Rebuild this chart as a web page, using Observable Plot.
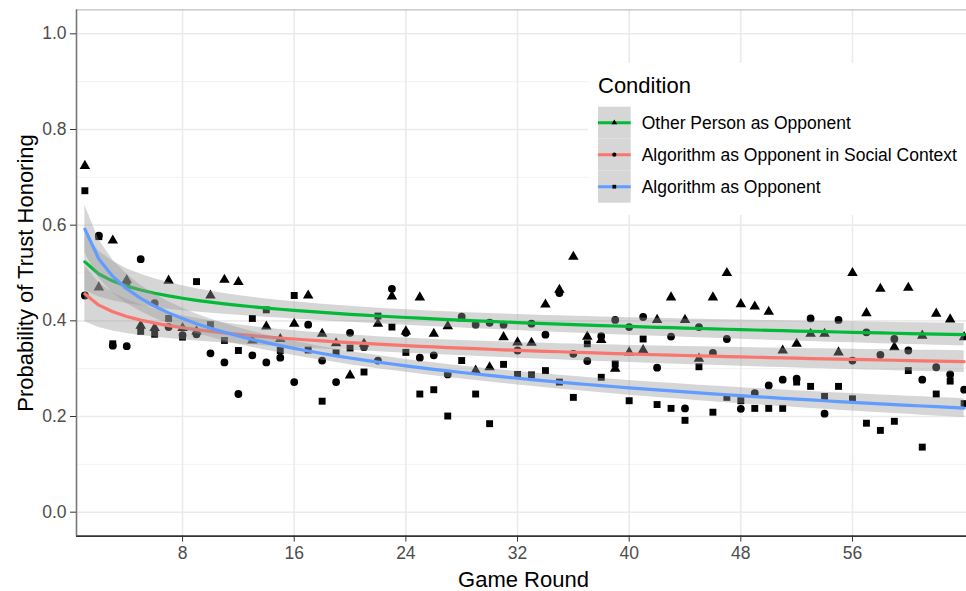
<!DOCTYPE html>
<html>
<head>
<meta charset="utf-8">
<script src="https://cdn.jsdelivr.net/npm/d3@7"></script>
<script src="https://cdn.jsdelivr.net/npm/@observablehq/plot@0.6"></script>
<style>
  html, body { margin: 0; padding: 0; background: #fff; overflow: hidden; }
  #wrap { position: relative; width: 966px; height: 591px; overflow: hidden; font-family: "Liberation Sans", Arial, sans-serif; }
  #wrap svg text { font-family: "Liberation Sans", Arial, sans-serif; }
  g[aria-label="x-axis tick"], g[aria-label="y-axis tick"] { stroke: #333333; }
  g[aria-label="x-axis tick label"], g[aria-label="y-axis tick label"] { fill: #4d4d4d; }
  #legend { position: absolute; left: 588px; top: 63px; width: 390px; height: 152px; background: #fff; }
</style>
</head>
<body>
<div id="wrap"><div id="legend"></div></div>
<script>
// ---- data ----
const rounds = [1,2,3,4,5,6,7,8,9,10,11,12,13,14,15,16,17,18,19,20,21,22,23,24,25,26,27,28,29,30,31,32,
                33,34,35,36,37,38,39,40,41,42,43,44,45,46,47,48,49,50,51,52,53,54,55,56,57,58,59,60,61,62,63,64];
const otherPerson = [0.724,0.470,0.568,0.485,0.390,0.385,0.484,0.385,0.378,0.453,0.486,0.481,0.359,0.388,0.362,0.394,
                     0.453,0.373,0.353,0.286,0.352,0.394,0.451,0.378,0.449,0.373,0.389,0.405,0.296,0.303,0.366,0.355,
                     0.354,0.434,0.465,0.534,0.367,0.360,0.300,0.334,0.339,0.402,0.449,0.402,0.321,0.449,0.500,0.435,
                     0.430,0.419,0.338,0.352,0.373,0.373,0.334,0.500,0.416,0.467,0.345,0.469,0.369,0.415,0.403,0.366];
const socialAlgo = [0.453,0.578,0.348,0.347,0.529,0.437,0.387,0.370,0.372,0.332,0.313,0.247,0.328,0.313,0.323,0.272,
                    0.392,0.317,0.272,0.375,0.345,0.317,0.467,0.375,0.323,0.328,0.288,0.409,0.392,0.396,0.392,0.338,
                    0.394,0.371,0.458,0.331,0.316,0.368,0.402,0.387,0.408,0.302,0.367,0.217,0.387,0.333,0.362,0.216,
                    0.249,0.265,0.277,0.279,0.405,0.206,0.402,0.317,0.376,0.329,0.362,0.338,0.277,0.303,0.288,0.256];
const algorithm = [0.672,0.576,0.352,0.475,0.378,0.372,0.405,0.366,0.482,0.392,0.359,0.338,0.405,0.423,0.338,0.453,
                   0.339,0.232,0.333,0.343,0.293,0.410,0.387,0.334,0.247,0.256,0.201,0.317,0.247,0.185,0.309,0.288,
                   0.287,0.296,0.272,0.240,0.352,0.282,0.310,0.233,0.362,0.225,0.217,0.192,0.304,0.209,0.240,0.233,
                   0.217,0.217,0.217,0.272,0.263,0.242,0.263,0.237,0.186,0.171,0.190,0.296,0.136,0.247,0.274,0.227];
const conditions = ["Other Person as Opponent", "Algorithm as Opponent in Social Context", "Algorithm as Opponent"];
const series = [otherPerson, socialAlgo, algorithm];
const lineColors = ["#00BA38", "#F8766D", "#619CFF"];
const symbols = ["triangle", "circle", "square"];
const xTicks = [8, 16, 24, 32, 40, 48, 56];
const yTicks = [0, 0.2, 0.4, 0.6, 0.8, 1.0];
const yMinor = [0.1, 0.3, 0.5, 0.7, 0.9];
const xDomain = [0.4, 64.6];
const yDomain = [-0.05, 1.05];
const xTitle = "Game Round";
const yTitle = "Probability of Trust Honoring";
const legendTitle = "Condition";

// ---- tables ----
const points = conditions.flatMap((c, i) => rounds.map((r, j) => ({round: r, value: series[i][j], cond: c})));

// linear model y ~ log(x) with 95% confidence band (as geom_smooth)
function fitLog(xs, ys, cond) {
  const lx = xs.map(Math.log), n = xs.length;
  const mx = d3.mean(lx), my = d3.mean(ys);
  const sxx = d3.sum(lx, v => (v - mx) ** 2);
  const sxy = d3.sum(lx, (v, i) => (v - mx) * (ys[i] - my));
  const b = sxy / sxx, a = my - b * mx;
  const rss = d3.sum(lx, (v, i) => (ys[i] - a - b * v) ** 2);
  const s = Math.sqrt(rss / (n - 2)), t = 1.999;
  return xs.map((x, i) => {
    const fit = a + b * lx[i];
    const se = s * Math.sqrt(1 / n + (lx[i] - mx) ** 2 / sxx);
    return {round: x, fit, lo: fit - t * se, hi: fit + t * se, cond};
  });
}
const fits = conditions.map((c, i) => fitLog(rounds, series[i], c));

const smoothMarks = fits.flatMap((f, i) => [
  Plot.areaY(f, {x: "round", y1: "lo", y2: "hi", fill: "#999999", fillOpacity: 0.4}),
  Plot.line(f, {x: "round", y: "fit", stroke: lineColors[i], strokeWidth: 3.2})
]);

const chart = Plot.plot({
  width: 966,
  height: 591,
  marginLeft: 76,
  marginRight: 0,
  marginTop: 9.4,
  marginBottom: 55.4,
  style: {fontFamily: "Liberation Sans, Arial, sans-serif", background: "white"},
  x: {domain: xDomain, range: [76, 972]},
  y: {domain: yDomain},
  symbol: {domain: conditions, range: symbols},
  marks: [
    Plot.gridY(yMinor, {stroke: "#F2F2F2", strokeOpacity: 1, strokeWidth: 1}),
    Plot.gridY(yTicks, {stroke: "#EBEBEB", strokeOpacity: 1, strokeWidth: 1.6}),
    Plot.gridX(xTicks, {stroke: "#EBEBEB", strokeOpacity: 1, strokeWidth: 1.6}),
    Plot.dot(points, {x: "round", y: "value", symbol: "cond", fill: "black", stroke: "none", r: 3.9}),
    ...smoothMarks,
    Plot.ruleY([yDomain[1]], {stroke: "#b0b0b0", strokeWidth: 1}),
    Plot.ruleX([xDomain[0]], {stroke: "#777777", strokeWidth: 1.6}),
    Plot.ruleY([yDomain[0]], {stroke: "#333333", strokeWidth: 1.6}),
    Plot.axisY(yTicks, {tickSize: 6, tickPadding: 4, tickFormat: ".1f", fontSize: 17.5, label: null}),
    Plot.axisX(xTicks, {tickSize: 6, tickPadding: 4, fontSize: 17.5, label: null}),
    Plot.text([yTitle], {text: d => d, frameAnchor: "left", textAnchor: "middle", lineAnchor: "middle",
                         dx: -51, rotate: -90, fontSize: 22, fill: "black"}),
    Plot.text([xTitle], {text: d => d, frameAnchor: "bottom", textAnchor: "middle", lineAnchor: "middle",
                         dx: 2, dy: 44, fontSize: 22, fill: "black"})
  ]
});
document.getElementById("wrap").insertBefore(chart, document.getElementById("legend"));

// ---- legend ----
const lg = d3.select("#legend").append("svg").attr("width", 390).attr("height", 152)
  .style("font-family", "Liberation Sans, Arial, sans-serif");
lg.append("text").attr("x", 10).attr("y", 30.3).attr("font-size", 22).attr("fill", "black").text(legendTitle);
const symGen = {triangle: d3.symbolTriangle, circle: d3.symbolCircle, square: d3.symbolSquare};
const rows = lg.selectAll("g.key").data(conditions).join("g").attr("class", "key")
  .attr("transform", (d, i) => `translate(10, ${43.7 + i * 32})`);
rows.append("rect").attr("width", 32.7).attr("height", 32).attr("fill", "#D6D6D6");
rows.append("line").attr("x1", 0).attr("x2", 32.7).attr("y1", 16).attr("y2", 16)
  .attr("stroke", (d, i) => lineColors[i]).attr("stroke-width", 3);
rows.append("path").attr("transform", "translate(16.3,16)")
  .attr("d", (d, i) => d3.symbol(symGen[symbols[i]], 14)()).attr("fill", "black");
rows.append("text").attr("x", 43.7).attr("y", 16).attr("dy", "0.35em").attr("font-size", 17.5)
  .attr("fill", "black").text(d => d);
</script>
</body>
</html>
